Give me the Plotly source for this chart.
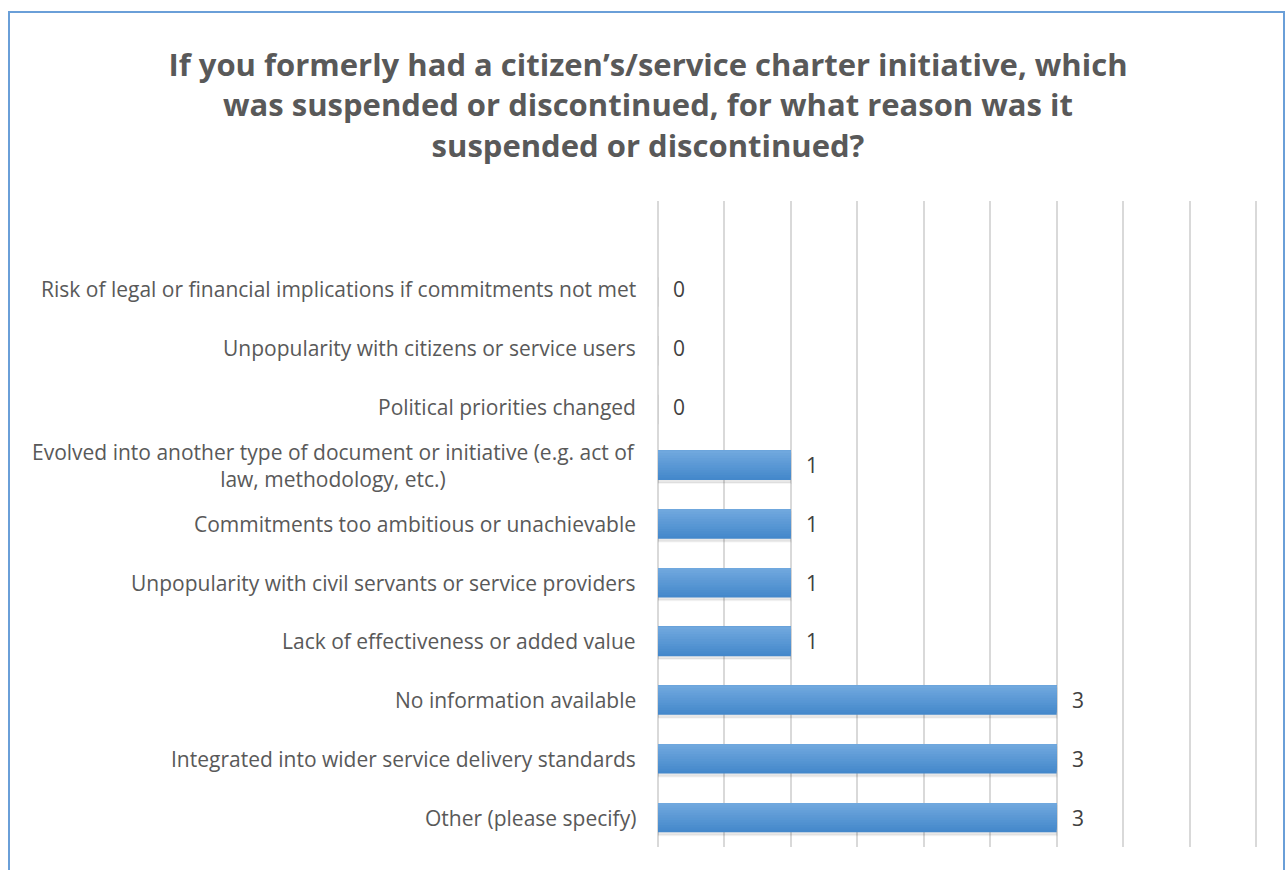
import plotly.graph_objects as go

# Survey answers, listed bottom-to-top as they appear on the axis
reasons = [
    "Other (please specify)",
    "Integrated into wider service delivery standards",
    "No information available",
    "Lack of effectiveness or added value",
    "Unpopularity with civil servants or service providers",
    "Commitments too ambitious or unachievable",
    "Evolved into another type of document or initiative (e.g. act of<br>law, methodology, etc.)",
    "Political priorities changed",
    "Unpopularity with citizens or service users",
    "Risk of legal or financial implications if commitments not met",
]
counts = [3, 3, 3, 1, 1, 1, 1, 0, 0, 0]

title_text = (
    "If you formerly had a citizen’s/service charter initiative, which<br>"
    "was suspended or discontinued, for what reason was it<br>"
    "suspended or discontinued?"
)

W, H = 1287, 870
L, R, T, B = 658, 1258, 201, 847
FONT = "Open Sans"

fig = go.Figure()

BAR_W = 0.5

# soft drop shadow under each bar
fig.add_trace(go.Bar(
    y=reasons, x=counts, orientation="h",
    width=BAR_W, offset=-BAR_W / 2 - 0.05,
    marker=dict(color="rgba(0,0,0,0.09)", line=dict(width=2, color="rgba(0,0,0,0.04)")),
    hoverinfo="skip", showlegend=False,
))

# vertical gradient: overlapping layers, each starting a little higher and lighter
bottom_rgb = (68, 136, 203)
top_rgb = (112, 168, 222)
N = 12
step = BAR_W / N
for i in range(N):
    t = i / (N - 1)
    c = tuple(round(b + (u - b) * t) for b, u in zip(bottom_rgb, top_rgb))
    fig.add_trace(go.Bar(
        y=reasons, x=counts, orientation="h",
        width=BAR_W - i * step, offset=-BAR_W / 2 + i * step,
        marker=dict(color=f"rgb{c}", line=dict(width=0)),
        hoverinfo="skip", showlegend=False,
    ))

# value labels just right of each bar end
for r, v in zip(reasons, counts):
    fig.add_annotation(
        x=v, y=r, xref="x", yref="y", text=str(v), showarrow=False,
        xanchor="left", xshift=13, font=dict(family=FONT, size=21, color="#404040"),
    )

# category labels, right aligned against the plot, centred line-wise
for r in reasons:
    fig.add_annotation(
        x=0, y=r, xref="paper", yref="y", text=r, showarrow=False,
        xanchor="right", xshift=-20, align="center",
        font=dict(family=FONT, size=21, color="#595959"),
    )

def px_x(p):
    return (p - L) / (R - L)

def px_y(p):
    return (B - p) / (B - T)

# chart-area frame
fig.add_shape(
    type="rect", xref="paper", yref="paper",
    x0=px_x(9), x1=px_x(1284), y0=px_y(900), y1=px_y(12),
    line=dict(color="#6a9fd8", width=2), fillcolor="rgba(0,0,0,0)", layer="below",
)

fig.update_layout(
    width=W, height=H,
    margin=dict(l=L, r=W - R, t=T, b=H - B),
    paper_bgcolor="white", plot_bgcolor="white",
    barmode="overlay",
    title=dict(
        text=title_text, x=648 / W, xref="container", xanchor="center",
        y=1 - 76 / H, yref="container", yanchor="middle",
        font=dict(family=FONT, size=31, color="#595959", weight="bold"),
    ),
    xaxis=dict(
        range=[0, 4.515], dtick=0.5, tick0=0, showticklabels=False,
        showgrid=True, gridcolor="#d9d9d9", gridwidth=2,
        zeroline=True, zerolinecolor="#d9d9d9", zerolinewidth=2,
        showline=False, fixedrange=True,
    ),
    yaxis=dict(
        categoryorder="array", categoryarray=reasons,
        range=[-0.5, 10.5], showticklabels=False, showgrid=False,
        zeroline=False, showline=False, fixedrange=True,
    ),
)

fig.write_html("out.html")
